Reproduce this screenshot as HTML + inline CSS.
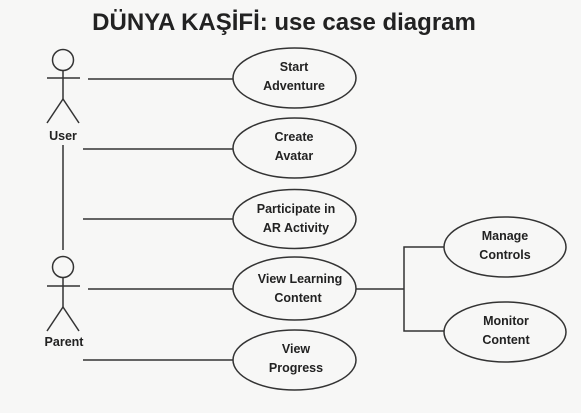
<!DOCTYPE html>
<html><head><meta charset="utf-8"><style>
html,body{margin:0;padding:0;background:#f7f7f6;}
svg{display:block;}
text{font-family:"Liberation Sans",Arial,sans-serif;font-weight:bold;fill:#222;}
</style></head><body>
<svg width="581" height="413" viewBox="0 0 581 413" xmlns="http://www.w3.org/2000/svg">
<rect width="581" height="413" fill="#f7f7f6"/>
<text x="284" y="30" font-size="24" text-anchor="middle">DÜNYA KAŞİFİ: use case diagram</text>
<g stroke="#333" stroke-width="1.5" fill="none">
<!-- User -->
<circle cx="63" cy="60" r="10.5"/>
<line x1="47" y1="78" x2="80" y2="78"/>
<line x1="63" y1="70.5" x2="63" y2="99"/>
<line x1="63" y1="99" x2="47" y2="123"/>
<line x1="63" y1="99" x2="79" y2="123"/>
<line x1="63" y1="145" x2="63" y2="250"/>
<!-- Parent -->
<circle cx="63" cy="267" r="10.5"/>
<line x1="47" y1="286" x2="80" y2="286"/>
<line x1="63" y1="277.5" x2="63" y2="307"/>
<line x1="63" y1="307" x2="47" y2="331"/>
<line x1="63" y1="307" x2="79" y2="331"/>
<!-- lines -->
<line x1="88" y1="79" x2="233" y2="79"/>
<line x1="83" y1="149" x2="233" y2="149"/>
<line x1="83" y1="219" x2="233" y2="219"/>
<line x1="88" y1="289" x2="233" y2="289"/>
<line x1="83" y1="360" x2="233" y2="360"/>
<polyline points="356,289 404,289"/>
<polyline points="444,247 404,247 404,331 444,331"/>
<!-- ellipses -->
<ellipse cx="294.5" cy="78" rx="61.5" ry="30"/>
<ellipse cx="294.5" cy="148" rx="61.5" ry="30"/>
<ellipse cx="294.5" cy="219" rx="61.5" ry="29.5"/>
<ellipse cx="294.5" cy="288.5" rx="61.5" ry="31.5"/>
<ellipse cx="294.5" cy="360" rx="61.5" ry="30"/>
<ellipse cx="505" cy="247" rx="61" ry="30"/>
<ellipse cx="505" cy="332" rx="61" ry="30"/>
</g>
<g font-size="12.5" text-anchor="middle">
<text x="63" y="140">User</text>
<text x="64" y="346">Parent</text>
<text x="294" y="71">Start</text><text x="294" y="90">Adventure</text>
<text x="294" y="141">Create</text><text x="294" y="160">Avatar</text>
<text x="296" y="213">Participate in</text><text x="296" y="232">AR Activity</text>
<text x="300" y="283">View Learning</text><text x="298" y="302">Content</text>
<text x="296" y="353">View</text><text x="296" y="372">Progress</text>
<text x="505" y="240">Manage</text><text x="505" y="259">Controls</text>
<text x="506" y="325">Monitor</text><text x="506" y="344">Content</text>
</g>
</svg>
</body></html>
